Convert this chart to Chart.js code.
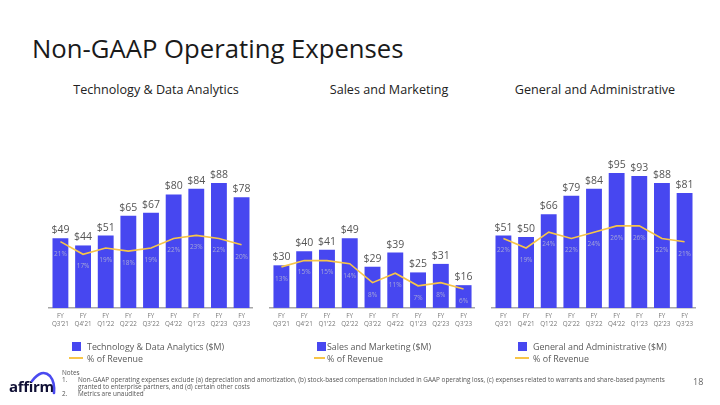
<!DOCTYPE html>
<html>
<head>
<meta charset="utf-8">
<script src="https://cdn.jsdelivr.net/npm/chart.js@4/dist/chart.umd.min.js"></script>
<style>
  html,body{margin:0;padding:0;background:#fff;}
  body{width:720px;height:405px;position:relative;overflow:hidden;font-family:"Open Sans",sans-serif;color:#222;}
  .abs{position:absolute;white-space:nowrap;}
  #title{left:32px;top:31px;font-size:25.7px;color:#1a1a1a;font-weight:400;}
  .ptitle{top:81px;font-size:12.6px;color:#222;transform:translateX(-50%);}
  canvas{position:absolute;}
  .lg{font-size:8.9px;color:#5a5a5a;}
  .sq{width:9px;height:9px;background:#4747f0;}
  .ln{height:2px;background:#f7c548;}
  .note{font-size:6.4px;color:#555;line-height:7px;}
</style>
</head>
<body>
<div id="title" class="abs">Non-GAAP Operating Expenses</div>
<div class="abs ptitle" style="left:156px">Technology &amp; Data Analytics</div>
<div class="abs ptitle" style="left:389px">Sales and Marketing</div>
<div class="abs ptitle" style="left:595px">General and Administrative</div>

<canvas id="c1" width="208" height="205" style="left:47px;top:136px;width:208px;height:205px"></canvas>
<canvas id="c2" width="209" height="205" style="left:268px;top:136px;width:209px;height:205px"></canvas>
<canvas id="c3" width="208" height="205" style="left:490px;top:136px;width:208px;height:205px"></canvas>

<div class="abs sq" style="left:72px;top:342px"></div>
<div class="abs lg" style="left:87px;top:340px">Technology &amp; Data Analytics ($M)</div>
<div class="abs ln" style="left:69px;top:357px;width:14px"></div>
<div class="abs lg" style="left:87px;top:352px">% of Revenue</div>

<div class="abs sq" style="left:317px;top:342px"></div>
<div class="abs lg" style="left:327px;top:340px">Sales and Marketing ($M)</div>
<div class="abs ln" style="left:314px;top:357px;width:11px"></div>
<div class="abs lg" style="left:327px;top:352px">% of Revenue</div>

<div class="abs sq" style="left:518px;top:342px"></div>
<div class="abs lg" style="left:533px;top:340px">General and Administrative ($M)</div>
<div class="abs ln" style="left:515px;top:357px;width:14px"></div>
<div class="abs lg" style="left:533px;top:352px">% of Revenue</div>

<div class="abs note" style="left:62px;top:369px">Notes</div>
<div class="abs note" style="left:62px;top:376px">1.</div>
<div class="abs note" style="left:78px;top:376px">Non-GAAP operating expenses exclude (a) depreciation and amortization, (b) stock-based compensation included in GAAP operating loss, (c) expenses related to warrants and share-based payments<br>granted to enterprise partners, and (d) certain other costs</div>
<div class="abs note" style="left:62px;top:390px">2.</div>
<div class="abs note" style="left:78px;top:390px">Metrics are unaudited</div>
<div class="abs" style="left:693px;top:375px;font-size:9px;color:#666">18</div>

<div class="abs" style="left:9px;top:376px;font-size:15px;line-height:20px;font-weight:700;color:#101035;letter-spacing:-0.3px">affirm</div>
<svg class="abs" style="left:28px;top:369px" width="30" height="30"><path d="M4 12 Q14 -1 22 7 Q27 13 26 24" fill="none" stroke="#4a4af0" stroke-width="2.6" stroke-linecap="round"/></svg>

<script>
const categories = [["FY","Q3'21"],["FY","Q4'21"],["FY","Q1'22"],["FY","Q2'22"],["FY","Q3'22"],["FY","Q4'22"],["FY","Q1'23"],["FY","Q2'23"],["FY","Q3'23"]];
const techValues = [49,44,51,65,67,80,84,88,78];
const techPct    = [21,17,19,18,19,22,23,22,20];
const smValues   = [30,40,41,49,29,39,25,31,16];
const smPct      = [13,15,15,14,8,11,7,8,6];
const gaValues   = [51,50,66,79,84,95,93,88,81];
const gaPct      = [22,19,24,22,24,26,26,22,21];

const BAR = '#4747f0', LINE = '#f7c548';

const labelPlugin = {
  id:'labels',
  afterDatasetsDraw(chart){
    const ctx = chart.ctx;
    ctx.save();
    const bm = chart.getDatasetMeta(1);
    const lm = chart.getDatasetMeta(0);
    ctx.textAlign='center'; ctx.textBaseline='middle';
    ctx.font = '10.5px "Open Sans"'; ctx.fillStyle='#555';
    bm.data.forEach((b,i)=>{ ctx.fillText('$'+chart.data.datasets[1].data[i], b.x, b.y-8); });
    ctx.font = '6.5px "Open Sans"'; ctx.fillStyle='#a6a6d8';
    lm.data.forEach((p,i)=>{ ctx.fillText(chart.data.datasets[0].data[i]+'%', p.x, p.y+12); });
    ctx.restore();
  }
};

function make(id, vals, pct){
  new Chart(document.getElementById(id), {
    type:'bar',
    data:{
      labels: categories,
      datasets:[
        {type:'line', data:pct, yAxisID:'y1', borderColor:LINE, borderWidth:1.6, pointRadius:0, tension:0, order:0},
        {type:'bar', data:vals, yAxisID:'y', backgroundColor:BAR, barPercentage:0.7, categoryPercentage:1, order:1}
      ]
    },
    options:{
      responsive:false, animation:false,
      layout:{padding:{top:30,bottom:8,left:0,right:0}},
      plugins:{legend:{display:false}, tooltip:{enabled:false}},
      scales:{
        x:{grid:{display:false,drawTicks:false}, border:{display:true,color:'#a8a8a8',width:1.5},
           ticks:{padding:5,color:'#777',font:{family:'"Open Sans"',size:6.3},maxRotation:0,autoSkip:false}},
        y:{display:false, min:0, max:100},
        y1:{display:false, min:0, max:45}
      }
    },
    plugins:[labelPlugin]
  });
}
make('c1', techValues, techPct);
make('c2', smValues, smPct);
make('c3', gaValues, gaPct);
</script>
</body>
</html>
